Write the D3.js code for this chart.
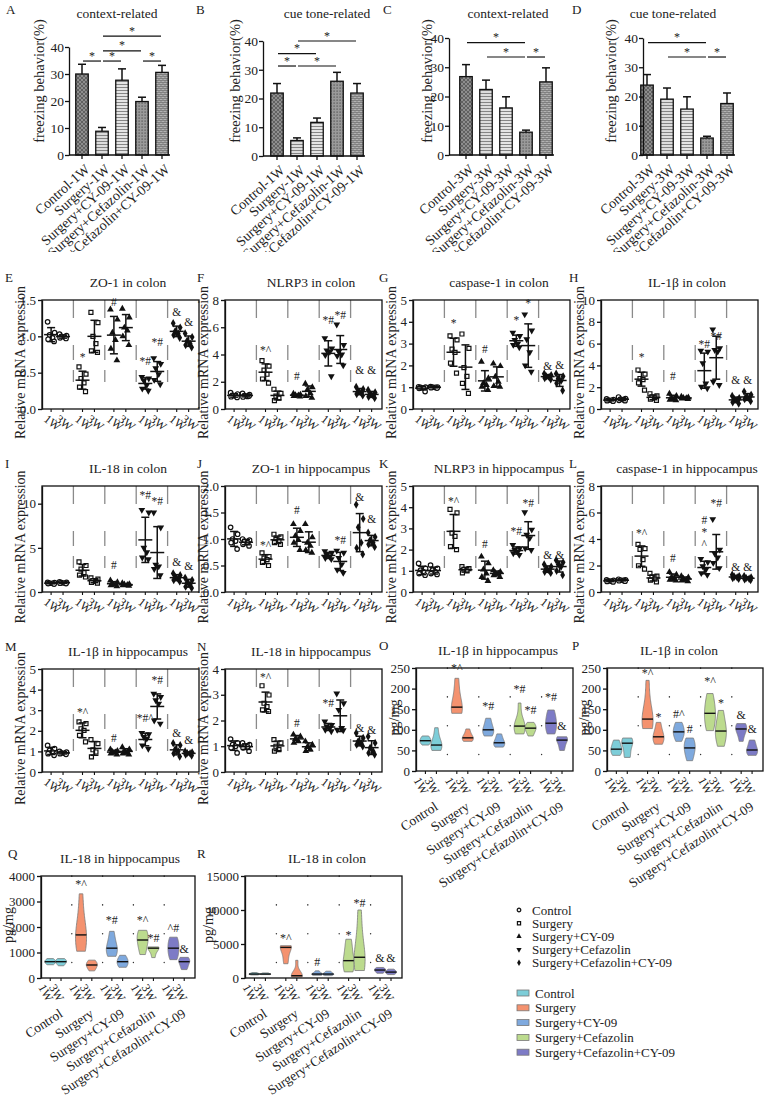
<!DOCTYPE html>
<html>
<head>
<meta charset="utf-8">
<script src="https://cdn.jsdelivr.net/npm/d3@7"></script>
<style>
  body { margin: 0; background: #fff; }
  text { font-family: "Liberation Serif", "Times New Roman", serif; fill: #222; }
</style>
</head>
<body>
<svg id="fig" width="767" height="1097"></svg>
<script>
// ---------- data ----------
const treatments = ["Control", "Surgery", "Surgery+CY-09", "Surgery+Cefazolin", "Surgery+Cefazolin+CY-09"];
const weeks = ["1W", "3W"];

// freezing behaviour (%), mean and SEM
const freezeA = [30, 8.8, 27.7, 19.8, 30.6], errA = [3.6, 1.4, 4.2, 1.6, 2.6];
const freezeB = [21.9, 5.4, 11.7, 26, 21.9], errB = [3.3, 0.9, 1.5, 3.1, 3.3];
const freezeC = [26.8, 22.4, 16.1, 7.8, 25], errC = [4.1, 3.2, 3.8, 0.7, 4.8];
const freezeD = [23.9, 19.1, 15.7, 5.8, 17.6], errD = [3.6, 3.8, 4.2, 0.6, 3.6];
// significance brackets [from, to, level]
const bracketsA = [[0, 1, 34.8], [1, 2, 34.8], [3, 4, 34.8], [1, 3, 38.6], [1, 4, 44]];
const bracketsB = [[0, 1, 31.3], [1, 3, 31.3], [0, 2, 35.6], [1, 4, 40]];
const bracketsC = [[0, 3, 38.4], [1, 3, 33.5], [3, 4, 33.5]];
const bracketsD = [[0, 3, 38.4], [1, 3, 33.5], [3, 4, 33.5]];

// relative mRNA, order: Ctrl1W, Ctrl3W, Surg1W, Surg3W, CY1W, CY3W, Cef1W, Cef3W, Both1W, Both3W
const zo1Colon = [[1.20,1.05,1.02,0.98,0.96,0.93],[1.03,1.01,1.00,0.99,0.98,0.97],[0.58,0.48,0.42,0.36,0.30,0.24],[1.33,1.19,1.00,0.90,0.80,0.78],[1.37,1.23,1.05,0.95,0.83,0.67],[1.38,1.26,1.12,1.08,1.00,0.88],[0.44,0.42,0.39,0.33,0.28,0.25],[0.70,0.62,0.56,0.48,0.40,0.34],[1.18,1.12,1.07,1.04,1.02,0.98],[1.04,0.99,0.94,0.90,0.88,0.85]];
const nlrp3Colon = [[1.20,1.10,1.00,0.95,0.90,0.85],[1.15,1.05,0.98,0.92,0.88,0.95],[3.55,3.15,2.85,2.55,2.20,1.90],[1.45,1.15,0.95,0.80,0.62],[1.12,1.06,1.02,1.00,0.96,0.92],[1.85,1.60,1.40,1.15,0.95,0.82],[5.20,4.45,4.30,4.20,3.95,2.40],[6.20,4.70,4.20,4.00,3.90,3.20],[1.62,1.45,1.30,1.20,1.10,1.00],[1.40,1.22,1.10,1.00,0.90,0.80]];
const casp1Colon = [[1.02,1.00,0.99,0.97,0.95,0.80],[1.03,1.01,1.00,0.99,0.98,0.96],[3.35,3.17,2.75,2.60,2.10,1.65],[3.44,2.78,1.90,1.50,1.18,0.72],[2.17,1.41,1.18,1.10,1.02,0.87],[2.08,1.97,1.48,1.25,1.05,1.02],[3.50,3.35,3.17,3.00,2.94,2.83],[4.34,3.60,3.20,2.60,2.00,1.71],[1.62,1.55,1.50,1.46,1.42,1.36],[1.62,1.50,1.40,1.30,1.18,0.85]];
const il1bColon = [[0.92,0.86,0.82,0.80,0.76,0.72],[1.10,0.96,0.90,0.86,0.80,0.76],[3.58,3.20,2.80,2.70,2.40,1.74],[1.40,1.20,1.10,1.00,0.90,0.80],[1.40,1.20,1.00,0.92,0.85,0.80],[1.12,1.06,1.02,1.00,0.96,0.92],[5.35,5.26,4.19,2.35,2.05,1.90],[7.30,5.57,5.41,5.26,2.50,2.20],[1.20,1.00,0.90,0.80,0.62,0.50],[1.60,1.30,1.10,1.00,0.90,0.72]];
const il18Colon = [[1.10,1.05,1.00,0.98,0.95,0.90],[1.15,1.10,1.05,1.02,1.00,0.95],[3.40,3.00,2.60,2.20,1.90,1.70],[1.60,1.45,1.30,1.20,1.10,1.00],[1.30,1.10,0.95,0.85,0.75,0.65],[1.00,0.90,0.85,0.80,0.75,0.70],[9.30,9.00,5.00,4.50,3.90,3.70],[9.00,7.30,3.10,2.90,2.60,1.90],[2.10,1.90,1.70,1.50,1.35,1.20],[1.60,1.35,1.10,0.85,0.60,0.45]];
const zo1Hippo = [[1.22,1.09,1.00,0.96,0.93,0.81],[1.00,0.98,0.96,0.93,0.90,0.87],[0.74,0.67,0.64,0.61,0.56,0.50],[1.09,1.04,0.99,0.96,0.93,0.90],[1.28,1.15,1.06,0.98,0.93,0.79],[1.28,1.03,0.93,0.87,0.79,0.74],[0.77,0.74,0.70,0.67,0.64,0.62],[0.78,0.74,0.64,0.52,0.42,0.36],[1.65,1.38,1.22,0.93,0.83,0.71],[1.12,1.04,0.98,0.93,0.90,0.85]];
const nlrp3Hippo = [[1.35,1.11,1.03,0.95,0.87,0.79],[1.27,1.11,1.03,0.95,0.87,0.83],[3.90,3.73,2.78,2.62,2.14,2.00],[1.20,1.10,1.05,1.00,0.90],[1.67,1.35,1.06,0.87,0.71,0.52],[1.03,0.95,0.90,0.87,0.79,0.71],[2.22,2.06,1.98,1.90,1.83,1.75],[3.76,2.94,2.70,2.54,2.06,1.98],[1.30,1.20,1.10,1.02,0.95,0.90],[1.50,1.40,1.30,1.20,1.00,0.80]];
const casp1Hippo = [[0.92,0.88,0.85,0.82,0.80,0.76],[0.96,0.92,0.90,0.87,0.85,0.82],[3.60,3.28,3.22,2.45,1.98,1.73],[1.40,1.20,1.10,1.00,0.90,0.76],[1.50,1.30,1.10,1.00,0.92,0.86],[1.20,1.10,1.00,0.92,0.86,0.80],[2.50,2.25,1.94,1.68,1.42,1.29],[5.50,3.20,2.90,2.60,2.20,1.80],[1.30,1.20,1.15,1.10,1.05,1.00],[1.20,1.10,1.05,1.00,0.95,0.90]];
const il1bHippo = [[1.29,1.13,1.05,0.97,0.89,0.81],[1.00,0.96,0.93,0.91,0.89,0.86],[2.43,2.35,2.10,2.02,1.78,1.46],[1.57,1.38,1.08,0.97,0.73],[1.10,1.02,0.98,0.95,0.90,0.85],[1.20,1.10,1.00,0.95,0.90,0.85],[1.90,1.83,1.70,1.62,1.29,1.13],[3.80,3.64,3.48,3.32,2.50,2.35],[1.40,1.30,1.10,1.00,0.90,0.75],[1.00,0.95,0.92,0.90,0.85,0.80]];
const il18Hippo = [[1.28,1.13,1.06,1.00,0.94,0.74],[1.13,1.06,1.00,0.97,0.94,0.81],[3.35,2.99,2.67,2.54,2.41,2.35],[1.26,1.13,1.00,0.87,0.81],[1.45,1.38,1.28,1.19,1.13],[1.19,1.06,0.97,0.87,0.81],[1.96,1.83,1.77,1.71,1.64,1.58],[3.05,2.67,2.41,1.71,1.64,1.62],[1.51,1.32,1.19,1.13,1.06,1.00],[1.38,1.13,0.94,0.81,0.74,0.68]];

// significance marks [group, text, level]
const marksE = [[2,"*",0.72],[4,"#",1.47],[6,"*#",0.66],[7,"*#",0.92],[8,"&",1.33],[9,"&",1.2]];
const marksF = [[2,"*^",4.3],[4,"#",2.4],[6,"*#",6.5],[7,"*#",6.9],[8,"&",2.9],[9,"&",2.9]];
const marksG = [[2,"*",3.95],[4,"#",2.75],[6,"*",4.1],[7,"*",4.85],[8,"&",1.97],[9,"&",2.0]];
const marksH = [[2,"*",4.8],[4,"#",3.0],[6,"*#",6.0],[7,"*#",6.7],[8,"&",2.7],[9,"&",2.7]];
const marksI = [[4,"#",3.1],[6,"*#",11],[7,"*#",10.3],[8,"&",3.4],[9,"&",3.0]];
const marksJ = [[2,"*^",0.88],[4,"#",1.54],[7,"*#",0.99],[8,"&",1.8],[9,"&",1.37]];
const marksK = [[2,"*^",4.3],[4,"#",2.25],[6,"*#",2.86],[7,"*#",4.2],[8,"&",1.75],[9,"&",1.75]];
const marksL = [[2,"*^",4.46],[4,"#",2.6],[6,"#",5.4],[6,"*",4.5],[6,"^",3.6],[7,"*#",6.7],[8,"&",1.9],[9,"&",1.9]];
const marksM = [[2,"*^",2.9],[4,"#",1.65],[6,"*#^",2.6],[7,"*#",4.47],[8,"&",1.9],[9,"&",1.54]];
const marksN = [[2,"*^",3.7],[4,"#",1.9],[6,"*#",2.67],[8,"&",1.7],[9,"&",1.62]];

// ELISA, pg/mg
const il1bHippoElisa = [[63,68,72,75,80,85],[50,57,60,66,80,105],[140,145,150,160,190,225],[72,76,79,82,90,102],[85,92,98,102,115,128],[58,63,67,70,80,90],[90,100,106,112,118,165],[85,95,102,106,110,118],[90,100,112,120,135,148],[50,60,73,77,80,83]];
const il1bColonElisa = [[38,45,50,56,65,75],[33,40,65,70,72,80],[103,110,120,132,160,220],[65,75,80,86,100,118],[72,85,92,98,108,118],[25,40,52,60,70,80],[98,115,135,145,165,188],[60,80,92,102,120,147],[72,90,98,106,110,115],[38,45,48,54,65,75]];
const il18HippoElisa = [[520,580,620,660,700,760],[480,560,620,660,700,760],[1050,1300,1600,1780,2300,3300],[280,400,480,540,600,700],[850,1000,1120,1220,1500,1830],[420,500,600,680,750,890],[920,1200,1420,1560,1750,1870],[800,1000,1140,1200,1210,1220],[720,900,1100,1240,1450,1600],[330,450,600,680,720,810]];
const il18ColonElisa = [[450,550,560,600,700,800],[500,550,560,600,700,750],[2100,3000,4400,4600,4700,4750],[150,250,300,380,600,2600],[400,500,560,600,800,1050],[350,500,560,600,800,1000],[900,1500,2300,2800,4500,5700],[1100,1800,2600,3500,6000,10000],[700,900,1100,1240,1350,1550],[500,700,820,920,1100,1300]];
const marksO = [[2,"*^",250],[4,"*#",158],[6,"*#",200],[7,"*#",148],[8,"*#",180],[9,"&",109]];
const marksP = [[2,"*^",238],[3,"*",131],[4,"#^",140],[5,"#",102],[6,"*^",220],[7,"*",165],[8,"&",136],[9,"&",102]];
const marksQ = [[2,"*^",3700],[4,"*#",2270],[6,"*^",2270],[7,"*#",1570],[8,"^#",1960],[9,"&",1140]];
const marksR = [[2,"*^",5980],[4,"#",2330],[6,"*",6400],[7,"*#",11100],[8,"&",2920],[9,"&",2920]];

const violinColors = ["#7dcdd8", "#f4926f", "#7ea9de", "#bcdb8e", "#7d7bc6"];

// ---------- drawing ----------
const svg = d3.select("#fig");
svg.append("rect").attr("width", 767).attr("height", 1097).attr("fill", "#fff");
const SERIF = "'Liberation Serif', 'Times New Roman', serif";

// bar fill patterns
const defs = svg.append("defs");
function pattern(id, size, bg, draw) {
  const p = defs.append("pattern").attr("id", id).attr("patternUnits", "userSpaceOnUse")
    .attr("width", size).attr("height", size);
  p.append("rect").attr("width", size).attr("height", size).attr("fill", bg);
  draw(p);
}
pattern("pat0", 4, "#8e8e8e", p => {
  p.append("path").attr("d", "M0,4L4,0M0,0L4,4").attr("stroke", "#555").attr("stroke-width", 0.8);
});
pattern("pat1", 3, "#dcdcdc", p => {
  p.append("path").attr("d", "M0,0.5H3").attr("stroke", "#7a7a7a").attr("stroke-width", 0.9);
});
pattern("pat2", 3, "#e4e4e4", p => {
  p.append("path").attr("d", "M0,0.5H3").attr("stroke", "#858585").attr("stroke-width", 1);
});
pattern("pat3", 3, "#9a9a9a", p => {
  p.append("rect").attr("x", 0.5).attr("y", 0.5).attr("width", 1.2).attr("height", 1.2).attr("fill", "#4e4e4e");
});
pattern("pat4", 4, "#b2b2b2", p => {
  p.append("path").attr("d", "M0,0.5H4M0,2.5H4M1,0.5V2.5M3,2.5V4").attr("stroke", "#6e6e6e").attr("stroke-width", 0.7);
});
// first-row group labels run under the next row in the source figure
defs.append("clipPath").attr("id", "row1clip").append("rect").attr("width", 767).attr("height", 252);

function letter(txt, x, y) {
  svg.append("text").attr("x", x).attr("y", y).attr("font-size", 13).text(txt);
}
function styleAxis(g, size) {
  g.attr("font-family", SERIF).attr("font-size", size || 13);
  g.selectAll("path,line").attr("stroke", "#111").attr("stroke-width", 1.3);
  g.selectAll("text").attr("fill", "#222");
}

function barPanel(p) {
  const g = svg.append("g");
  const x = d3.scaleBand().domain(d3.range(5)).range(p.xr).padding(0);
  const cx = i => x(i) + x.bandwidth() / 2;
  const y = d3.scaleLinear().domain([0, 40]).range([p.bot, p.top]);
  const bw = 12.5;
  g.selectAll("rect.bar").data(p.values).join("rect").attr("class", "bar")
    .attr("x", (d, i) => cx(i) - bw / 2).attr("width", bw)
    .attr("y", d => y(d)).attr("height", d => y(0) - y(d))
    .attr("fill", (d, i) => `url(#pat${i})`).attr("stroke", "#111").attr("stroke-width", 1.3);
  // error bars (upper)
  p.values.forEach((v, i) => {
    const top = y(v + p.errors[i]);
    g.append("line").attr("x1", cx(i)).attr("x2", cx(i)).attr("y1", y(v)).attr("y2", top)
      .attr("stroke", "#111").attr("stroke-width", 1.5);
    g.append("line").attr("x1", cx(i) - 4).attr("x2", cx(i) + 4).attr("y1", top).attr("y2", top)
      .attr("stroke", "#111").attr("stroke-width", 1.5);
  });
  // axes
  const ay = g.append("g").attr("transform", `translate(${p.x0},0)`)
    .call(d3.axisLeft(y).tickValues([0, 10, 20, 30, 40]).tickSize(4).tickPadding(1).tickSizeOuter(0));
  styleAxis(ay, 13.5);
  g.append("line").attr("x1", p.x0).attr("x2", p.xr[1] - 2).attr("y1", p.bot).attr("y2", p.bot)
    .attr("stroke", "#111").attr("stroke-width", 1.5);
  const lab = g.append("g").attr("clip-path", "url(#row1clip)");
  p.values.forEach((v, i) => {
    g.append("line").attr("x1", cx(i)).attr("x2", cx(i)).attr("y1", p.bot).attr("y2", p.bot + 4)
      .attr("stroke", "#111").attr("stroke-width", 1.3);
    lab.append("text").attr("transform", `translate(${cx(i) + 2},${p.bot + 8}) rotate(-42)`)
      .attr("text-anchor", "end").attr("dy", "0.7em").attr("font-size", 14).text(p.labels[i]);
  });
  // significance brackets
  p.brackets.forEach(([a, b, lv]) => {
    const yy = y(lv);
    g.append("line").attr("x1", cx(a) + 1).attr("x2", cx(b) - 1).attr("y1", yy).attr("y2", yy)
      .attr("stroke", "#111").attr("stroke-width", 1.2);
    g.append("text").attr("x", (cx(a) + cx(b)) / 2).attr("y", yy - 1.5).attr("text-anchor", "middle")
      .attr("font-size", 12).attr("fill", "#555").text("*");
  });
  g.append("text").attr("x", p.titleX).attr("y", 18).attr("text-anchor", "middle").attr("font-size", 13.5).text(p.title);
  g.append("text").attr("transform", `translate(${p.ylabX},81) rotate(-90)`)
    .attr("text-anchor", "middle").attr("dy", "0.35em").attr("font-size", 14.5).text("freezing behavior(%)");
  letter(p.letter, p.letterX, 14);
}

const labels1W = treatments.map(t => t + "-1W");
const labels3W = treatments.map(t => t + "-3W");
barPanel({ letter: "A", letterX: 6, x0: 69, xr: [72, 172], top: 47, bot: 155, title: "context-related", titleX: 117, ylabX: 39, values: freezeA, errors: errA, labels: labels1W, brackets: bracketsA });
barPanel({ letter: "B", letterX: 196, x0: 263, xr: [267, 367], top: 41, bot: 156, title: "cue tone-related", titleX: 327, ylabX: 235, values: freezeB, errors: errB, labels: labels1W, brackets: bracketsB });
barPanel({ letter: "C", letterX: 383, x0: 449, xr: [456, 556], top: 38, bot: 155, title: "context-related", titleX: 508, ylabX: 427, values: freezeC, errors: errC, labels: labels3W, brackets: bracketsC });
barPanel({ letter: "D", letterX: 572, x0: 643, xr: [637, 737], top: 38, bot: 155, title: "cue tone-related", titleX: 673, ylabX: 611, values: freezeD, errors: errD, labels: labels3W, brackets: bracketsD });

// point symbols for the treatment groups (drawn inside an already translated group)
function drawSymbol(sel, t, size) {
  const types = [d3.symbolCircle, d3.symbolSquare, d3.symbolTriangle, d3.symbolTriangle, d3.symbolDiamond];
  const s = sel.append("path").attr("d", d3.symbol(types[t], size)());
  if (t === 3) s.attr("transform", "rotate(180)");
  if (t < 2) s.attr("fill", "#fff").attr("stroke", "#111").attr("stroke-width", 1.2);
  else s.attr("fill", "#111");
  return s;
}

const PW = 157;
const jitter = [-3.5, 3.5, -1.5, 1.5, -3, 3];

function dotPanel(p) {
  const g = svg.append("g");
  const w = p.w || PW, gw = w / 5;
  const y = d3.scaleLinear().domain(p.domain).range([p.bot, p.top]);
  const xpos = i => p.x0 + Math.floor(i / 2) * gw + (i % 2 ? 0.67 : 0.29) * gw;
  for (let k = 1; k < 5; k++) {
    g.append("line").attr("x1", p.x0 + k * gw).attr("x2", p.x0 + k * gw).attr("y1", p.top).attr("y2", p.bot)
      .attr("stroke", "#8a8a8a").attr("stroke-width", 1.3).attr("stroke-dasharray", "18 27 15 10 12 100");
  }
  g.append("rect").attr("x", p.x0).attr("y", p.top).attr("width", w).attr("height", p.bot - p.top)
    .attr("fill", "none").attr("stroke", "#111").attr("stroke-width", 1.3);
  const ay = g.append("g").attr("transform", `translate(${p.x0},0)`)
    .call(d3.axisLeft(y).tickValues(p.ticks).tickFormat(d3.format(p.fmt)).tickSize(4).tickPadding(2).tickSizeOuter(0));
  styleAxis(ay, 13);
  p.data.forEach((vals, i) => {
    const cx = xpos(i), t = Math.floor(i / 2);
    g.append("line").attr("x1", cx).attr("x2", cx).attr("y1", p.bot).attr("y2", p.bot + 3)
      .attr("stroke", "#111").attr("stroke-width", 1.1);
    g.append("text").attr("transform", `translate(${cx - 3},${p.bot + 5}) rotate(38)`)
      .attr("dy", "0.7em").attr("font-size", 12).text(weeks[i % 2]);
    vals.forEach((v, j) => {
      const s = g.append("g").attr("transform", `translate(${cx + jitter[j % 6]},${y(v)})`);
      drawSymbol(s, t, t < 2 ? 16 : 20);
    });
    const m = d3.mean(vals), sd = d3.deviation(vals);
    const line = (x1, x2, y1, y2) => g.append("line").attr("x1", x1).attr("x2", x2).attr("y1", y1).attr("y2", y2)
      .attr("stroke", "#111").attr("stroke-width", 1.5);
    line(cx - 7, cx + 7, y(m), y(m));
    line(cx, cx, y(m - sd), y(m + sd));
    line(cx - 4, cx + 4, y(m + sd), y(m + sd));
    line(cx - 4, cx + 4, y(m - sd), y(m - sd));
  });
  p.marks.forEach(([i, txt, lv]) => {
    g.append("text").attr("x", xpos(i)).attr("y", y(lv)).attr("dy", "0.35em").attr("text-anchor", "middle")
      .attr("font-size", 11.5).attr("fill", "#555").text(txt);
  });
  g.append("text").attr("x", p.x0 + 86).attr("y", p.top - 13).attr("text-anchor", "middle")
    .attr("font-size", 13.5).text(p.title);
  g.append("text").attr("transform", `translate(${Math.max(15, p.x0 - 22)},${(p.top + p.bot) / 2 + 8}) rotate(-90)`)
    .attr("text-anchor", "middle").attr("dy", "0.35em").attr("font-size", 14).text("Relative mRNA expression");
  letter(p.letter, p.letterX, p.top - 18);
}

const cols = [42, 225, 413, 601];
const letterXs = [5, 197, 379, 569];
dotPanel({ letter: "E", letterX: letterXs[0], x0: cols[0], top: 300, bot: 409, domain: [0, 1.5], ticks: [0, 0.5, 1, 1.5], fmt: ".1f", title: "ZO-1 in colon", data: zo1Colon, marks: marksE });
dotPanel({ letter: "F", letterX: letterXs[1], x0: cols[1], top: 300, bot: 409, domain: [0, 8], ticks: [0, 2, 4, 6, 8], fmt: "d", title: "NLRP3 in colon", data: nlrp3Colon, marks: marksF });
dotPanel({ letter: "G", letterX: letterXs[2], x0: cols[2], top: 300, bot: 409, domain: [0, 5], ticks: [0, 1, 2, 3, 4, 5], fmt: "d", title: "caspase-1 in colon", data: casp1Colon, marks: marksG });
dotPanel({ letter: "H", letterX: letterXs[3], x0: cols[3], top: 300, bot: 409, domain: [0, 10], ticks: [0, 2, 4, 6, 8, 10], fmt: "d", title: "IL-1β  in colon", data: il1bColon, marks: marksH });
dotPanel({ letter: "I", letterX: letterXs[0], x0: cols[0], top: 486, bot: 592, domain: [0, 12], ticks: [0, 5, 10], fmt: "d", title: "IL-18 in colon", data: il18Colon, marks: marksI });
dotPanel({ letter: "J", letterX: letterXs[1], x0: cols[1], top: 486, bot: 592, domain: [0, 2], ticks: [0, 0.5, 1, 1.5, 2], fmt: ".1f", title: "ZO-1 in hippocampus", data: zo1Hippo, marks: marksJ });
dotPanel({ letter: "K", letterX: letterXs[2], x0: cols[2], top: 486, bot: 592, domain: [0, 5], ticks: [0, 1, 2, 3, 4, 5], fmt: "d", title: "NLRP3 in hippocampus", data: nlrp3Hippo, marks: marksK });
dotPanel({ letter: "L", letterX: letterXs[3], x0: cols[3], top: 486, bot: 592, domain: [0, 8], ticks: [0, 2, 4, 6, 8], fmt: "d", title: "caspase-1 in hippocampus", data: casp1Hippo, marks: marksL });
dotPanel({ letter: "M", letterX: letterXs[0], x0: cols[0], top: 669, bot: 772, domain: [0, 5], ticks: [0, 1, 2, 3, 4, 5], fmt: "d", title: "IL-1β  in hippocampus", data: il1bHippo, marks: marksM });
dotPanel({ letter: "N", letterX: letterXs[1], x0: cols[1], top: 669, bot: 772, domain: [0, 4], ticks: [0, 1, 2, 3, 4], fmt: "d", title: "IL-18 in hippocampus", data: il18Hippo, marks: marksN });

// violin panels
function kde(vals, n) {
  const s = vals.slice().sort(d3.ascending);
  const lo = s[0], hi = s[s.length - 1];
  const h = Math.max(1.06 * d3.deviation(s) * Math.pow(s.length, -0.2), (hi - lo) * 0.05 || 1);
  const grid = d3.range(n + 1).map(k => lo + (hi - lo) * k / n);
  return { h, pts: grid.map(v => [v, d3.mean(s, d => Math.exp(-0.5 * ((v - d) / h) ** 2))]) };
}

function violinPanel(p) {
  const g = svg.append("g");
  const w = p.w, gw = w / 5;
  const y = d3.scaleLinear().domain(p.domain).range([p.bot, p.top]);
  const xpos = i => p.x0 + Math.floor(i / 2) * gw + (i % 2 ? 0.65 : 0.3) * gw;
  const hw = 5.5;
  for (let k = 1; k < 5; k++) {
    g.append("line").attr("x1", p.x0 + k * gw).attr("x2", p.x0 + k * gw).attr("y1", p.top).attr("y2", p.bot)
      .attr("stroke", "#333").attr("stroke-width", 1.4).attr("stroke-linecap", "round")
      .attr("stroke-dasharray", "0.2 28.6");
  }
  p.data.forEach((vals, i) => {
    const cx = xpos(i), t = Math.floor(i / 2);
    const { h, pts } = kde(vals, 40);
    const dmax = d3.max(pts, d => d[1]);
    const wd = d => hw * Math.max(d / dmax, 0.12);
    const area = d3.area().curve(d3.curveBasis)
      .y(d => y(d[0])).x0(d => cx - wd(d[1])).x1(d => cx + wd(d[1]));
    g.append("path").attr("d", area(pts)).attr("fill", violinColors[t])
      .attr("stroke", "#7a7a7a").attr("stroke-width", 0.8);
    const med = d3.median(vals);
    const dm = d3.mean(vals, d => Math.exp(-0.5 * ((med - d) / h) ** 2));
    const mw = Math.min(hw, wd(dm));
    g.append("line").attr("x1", cx - mw).attr("x2", cx + mw).attr("y1", y(med)).attr("y2", y(med))
      .attr("stroke", "#111").attr("stroke-width", 1.4);
    g.append("line").attr("x1", cx).attr("x2", cx).attr("y1", p.bot).attr("y2", p.bot + 3)
      .attr("stroke", "#111").attr("stroke-width", 1.1);
    g.append("text").attr("transform", `translate(${cx - 5},${p.bot + 5}) rotate(60)`)
      .attr("dy", "0.7em").attr("font-size", 12).text(weeks[i % 2]);
  });
  g.append("rect").attr("x", p.x0).attr("y", p.top).attr("width", w).attr("height", p.bot - p.top)
    .attr("fill", "none").attr("stroke", "#111").attr("stroke-width", 1.3);
  const ay = g.append("g").attr("transform", `translate(${p.x0},0)`)
    .call(d3.axisLeft(y).tickValues(p.ticks).tickFormat(d3.format("d")).tickSize(4).tickPadding(2).tickSizeOuter(0));
  styleAxis(ay, 13);
  treatments.forEach((tr, t) => {
    const gc = p.x0 + (t + 0.5) * gw;
    g.append("text").attr("transform", `translate(${gc + 2},${p.bot + 30}) rotate(-33)`)
      .attr("text-anchor", "end").attr("dy", "0.7em").attr("font-size", 13.5).text(tr);
  });
  p.marks.forEach(([i, txt, lv]) => {
    g.append("text").attr("x", xpos(i)).attr("y", y(lv)).attr("dy", "0.35em").attr("text-anchor", "middle")
      .attr("font-size", 12).attr("fill", "#555").text(txt);
  });
  g.append("text").attr("x", p.x0 + p.titleDx).attr("y", p.top - 13).attr("text-anchor", "middle")
    .attr("font-size", 13.5).text(p.title);
  g.append("text").attr("transform", `translate(${p.ylabX},${(p.top + p.bot) / 2 - 2}) rotate(-90)`)
    .attr("text-anchor", "middle").attr("dy", "0.35em").attr("font-size", 14).text("pg/mg");
  letter(p.letter, p.letterX, p.top - 18);
}

violinPanel({ letter: "O", letterX: 379, x0: 416, w: 157, top: 668, bot: 771, domain: [0, 250], ticks: [0, 50, 100, 150, 200, 250], title: "IL-1β  in hippocampus", titleDx: 82, ylabX: 394, data: il1bHippoElisa, marks: marksO });
violinPanel({ letter: "P", letterX: 572, x0: 607, w: 156, top: 668, bot: 771, domain: [0, 250], ticks: [0, 50, 100, 150, 200, 250], title: "IL-1β  in colon", titleDx: 72, ylabX: 584, data: il1bColonElisa, marks: marksP });
violinPanel({ letter: "Q", letterX: 8, x0: 41, w: 154, top: 876, bot: 978, domain: [0, 4000], ticks: [0, 1000, 2000, 3000, 4000], title: "IL-18 in hippocampus", titleDx: 79, ylabX: 8, data: il18HippoElisa, marks: marksQ });
violinPanel({ letter: "R", letterX: 197, x0: 245, w: 157, top: 876, bot: 978, domain: [0, 15000], ticks: [0, 5000, 10000, 15000], title: "IL-18 in colon", titleDx: 82, ylabX: 208, data: il18ColonElisa, marks: marksR });

// legends
const leg1 = svg.append("g");
treatments.forEach((tr, t) => {
  const yy = 910 + t * 13.2;
  const s = leg1.append("g").attr("transform", `translate(519,${yy})`);
  drawSymbol(s, t, t < 2 ? 10 : 12);
  leg1.append("text").attr("x", 532).attr("y", yy).attr("dy", "0.35em").attr("font-size", 13).text(tr);
});
const leg2 = svg.append("g");
treatments.forEach((tr, t) => {
  const yy = 993 + t * 14.8;
  leg2.append("rect").attr("x", 517).attr("y", yy - 3).attr("width", 12).attr("height", 6)
    .attr("fill", violinColors[t]).attr("stroke", "#777").attr("stroke-width", 0.8);
  leg2.append("text").attr("x", 535).attr("y", yy).attr("dy", "0.35em").attr("font-size", 13).text(tr);
});
</script>
</body>
</html>
